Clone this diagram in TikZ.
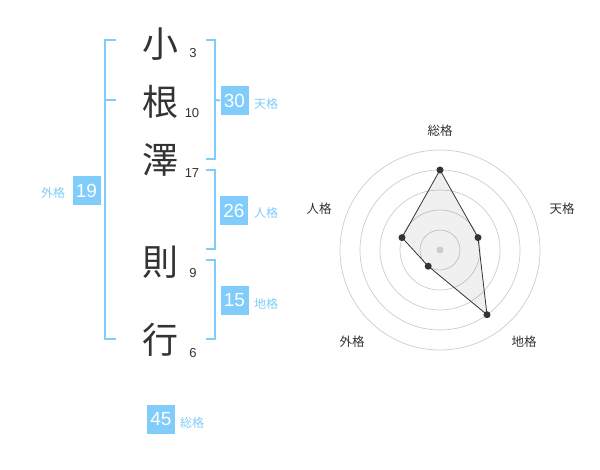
\documentclass[tikz,border=0pt]{standalone}
\usepackage{fontspec}
\setmainfont{Liberation Sans}
\newfontfamily\jp{Noto Sans CJK JP}
\definecolor{kblue}{RGB}{128,204,250}
\definecolor{kdark}{RGB}{51,51,51}
\begin{document}
\begin{tikzpicture}[x=1pt,y=-1pt,
 kanji/.style={font=\jp\fontsize{36}{36}\selectfont, text=kdark, inner sep=0},
 strokes/.style={font=\fontsize{13}{13}\selectfont, text=kdark, inner sep=0},
 numbox/.style={fill=kblue, text=white, minimum width=28, minimum height=29, inner sep=0, font=\fontsize{19}{19}\selectfont},
 kaku/.style={font=\jp\fontsize{12}{12}\selectfont, text=kblue, inner sep=0},
 bracket/.style={draw=kblue, line width=2},
 ring/.style={draw=black!20, line width=0.7},
 radarlabel/.style={font=\jp\fontsize{12.5}{12.5}\selectfont, text=kdark, inner sep=0},
 dot/.style={circle, fill=kdark, inner sep=0, minimum size=7}
]
\useasboundingbox (0,0) rectangle (600,470);
% name characters
\node[kanji] (c1) at (160,44) {小};
\node[kanji] (c2) at (160,102) {根};
\node[kanji] (c3) at (160,160) {澤};
\node[kanji] (c4) at (160,262) {則};
\node[kanji] (c5) at (160,340) {行};
\node[strokes] (s1) at (193,53) {3};
\node[strokes] (s2) at (192,113) {10};
\node[strokes] (s3) at (192,173) {17};
\node[strokes] (s4) at (193,273) {9};
\node[strokes] (s5) at (193,353) {6};
% left bracket (gaikaku)
\coordinate (lt) at (116,40);
\coordinate (lb) at (116,339);
\coordinate (lm) at (116,100);
\draw[bracket] (lt) -- (105,40) -- (105,339) -- (lb);
\draw[bracket] (105,100) -- (lm);
\node[numbox] (b19) at (86.5,190.5) {19};
\node[kaku] (k19) at (53,193) {外格};
% tenkaku
\coordinate (t1) at (205.5,40);
\coordinate (t2) at (205.5,159);
\draw[bracket] (t1) -- (215,40) -- (215,159) -- (t2);
\node[numbox] (b30) at (234.5,100.5) {30};
\draw[bracket] (215,100) -- (b30.west);
\node[kaku] (k30) at (266,104) {天格};
% jinkaku
\coordinate (j1) at (205.5,170);
\coordinate (j2) at (205.5,249.5);
\draw[bracket] (j1) -- (215,170) -- (215,249.5) -- (j2);
\node[numbox] (b26) at (234,210.5) {26};
\node[kaku] (k26) at (266,213) {人格};
% chikaku
\coordinate (h1) at (205.5,260);
\coordinate (h2) at (205.5,339);
\draw[bracket] (h1) -- (215,260) -- (215,339) -- (h2);
\node[numbox] (b15) at (234.5,300.5) {15};
\node[kaku] (k15) at (266,304) {地格};
% soukaku
\node[numbox] (b45) at (161,419) {45};
\node[kaku] (k45) at (192,423) {総格};
% radar
\coordinate (ctr) at (440,250);
\foreach \r in {20,40,60,80,100} \draw[ring] (ctr) circle[radius=\r];
\coordinate (p1) at (440,170);
\coordinate (p2) at (478.0,237.6);
\coordinate (p3) at (487.0,314.7);
\coordinate (p4) at (428.2,266.2);
\coordinate (p5) at (402.0,237.6);
\fill[black, fill opacity=0.06] (p1) -- (p2) -- (p3) -- (p4) -- (p5) -- cycle;
\draw[kdark, line width=0.8] (p1) -- (p2) -- (p3) -- (p4) -- (p5) -- cycle;
\node[circle, fill=black!20, inner sep=0, minimum size=7] (cd) at (ctr) {};
\foreach \p in {p1,p2,p3,p4,p5} \node[dot] at (\p) {};
\node[radarlabel] (r1) at (440,131) {総格};
\node[radarlabel] (r2) at (562,209) {天格};
\node[radarlabel] (r3) at (319,209) {人格};
\node[radarlabel] (r4) at (352,342) {外格};
\node[radarlabel] (r5) at (524,342) {地格};
\end{tikzpicture}
\end{document}
